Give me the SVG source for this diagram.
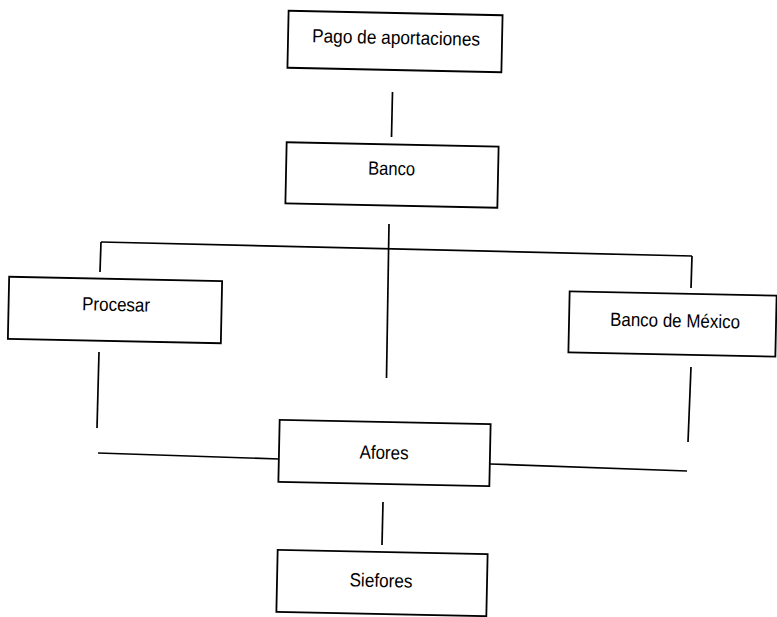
<svg xmlns="http://www.w3.org/2000/svg" width="777" height="617" viewBox="0 0 777 617">
<style>
.box{fill:#fff;stroke:#000;stroke-width:1.8}
.lbl{font-family:"Liberation Sans",Arial,sans-serif;font-size:19px;fill:#000;text-anchor:middle}
.con line{stroke:#000;stroke-width:1.7;fill:none}
</style>
<rect x="0" y="0" width="777" height="617" fill="#fff"/>
<g class="con" id="connectors">
<line x1="392.5" y1="92" x2="391.5" y2="137"/>
<line x1="101" y1="242" x2="692" y2="256"/>
<line x1="101" y1="242" x2="100" y2="272"/>
<line x1="692" y1="256" x2="691" y2="288"/>
<line x1="389" y1="224" x2="386.5" y2="378"/>
<line x1="99" y1="352" x2="97" y2="428"/>
<line x1="691" y1="367" x2="688" y2="442"/>
<line x1="98" y1="453" x2="279" y2="459"/>
<line x1="490" y1="464" x2="687" y2="471"/>
<line x1="383" y1="502" x2="382" y2="545"/>
</g>
<g id="pago" transform="rotate(1.2 395 41.5)">
<rect class="box" x="288" y="13" width="214" height="57"/>
<text class="lbl" x="396" y="44" textLength="168" lengthAdjust="spacingAndGlyphs">Pago de aportaciones</text>
</g>
<g id="banco" transform="rotate(1.2 392 175)">
<rect class="box" x="286" y="144.5" width="212" height="61"/>
<text class="lbl" x="391.5" y="175" textLength="47" lengthAdjust="spacingAndGlyphs">Banco</text>
</g>
<g id="procesar" transform="rotate(1.2 115 310)">
<rect class="box" x="8.5" y="279" width="213" height="62"/>
<text class="lbl" x="116" y="311" textLength="68" lengthAdjust="spacingAndGlyphs">Procesar</text>
</g>
<g id="banxico" transform="rotate(1.2 672.5 324)">
<rect class="box" x="569" y="293.5" width="207" height="61"/>
<text class="lbl" x="675" y="327" textLength="130" lengthAdjust="spacingAndGlyphs">Banco de México</text>
</g>
<g id="afores" transform="rotate(1.2 384.5 453)">
<rect class="box" x="279" y="422" width="211" height="62"/>
<text class="lbl" x="384" y="459" textLength="49" lengthAdjust="spacingAndGlyphs">Afores</text>
</g>
<g id="siefores" transform="rotate(1.2 382 583)">
<rect class="box" x="277" y="552" width="210" height="62"/>
<text class="lbl" x="381" y="587" textLength="63" lengthAdjust="spacingAndGlyphs">Siefores</text>
</g>
</svg>
